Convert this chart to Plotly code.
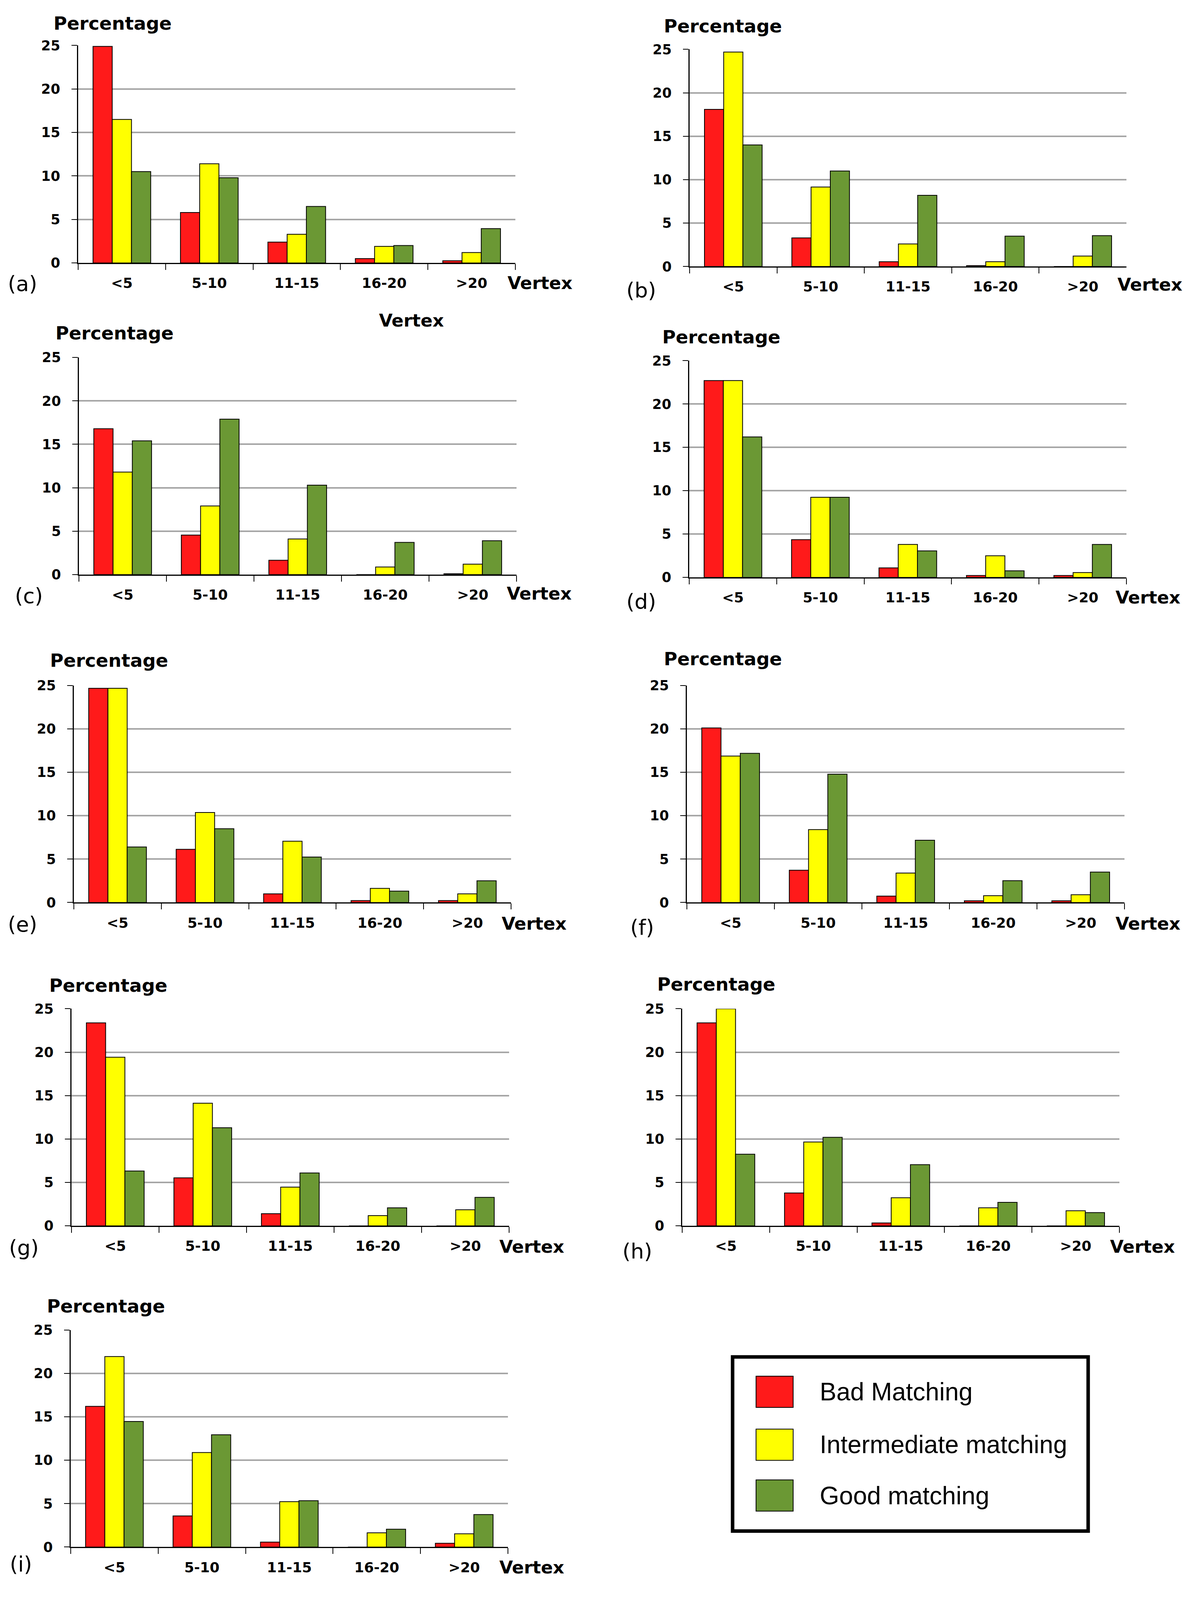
import plotly.graph_objects as go

# ---------------- data ----------------
categories = ["<5", "5-10", "11-15", "16-20", ">20"]
panel_letters = ["(a)", "(b)", "(c)", "(d)", "(e)", "(f)", "(g)", "(h)", "(i)"]
series_names = ["Bad Matching", "Intermediate matching", "Good matching"]
y_ticks = [0, 5, 10, 15, 20, 25]

bad_matching = [
    [24.9, 5.8, 2.4, 0.5, 0.25],
    [18.1, 3.3, 0.55, 0.1, 0.0],
    [16.8, 4.55, 1.65, 0.0, 0.1],
    [22.7, 4.35, 1.1, 0.22, 0.22],
    [24.67, 6.13, 1.0, 0.22, 0.22],
    [20.1, 3.72, 0.74, 0.2, 0.2],
    [23.37, 5.53, 1.4, 0.0, 0.0],
    [23.37, 3.79, 0.33, 0.0, 0.0],
    [16.2, 3.58, 0.57, 0.0, 0.43],
]
intermediate_matching = [
    [16.5, 11.4, 3.3, 1.9, 1.2],
    [24.7, 9.15, 2.6, 0.55, 1.2],
    [11.8, 7.9, 4.1, 0.87, 1.2],
    [22.7, 9.24, 3.8, 2.5, 0.56],
    [24.67, 10.36, 7.06, 1.63, 1.0],
    [16.87, 8.4, 3.39, 0.78, 0.9],
    [19.42, 14.12, 4.46, 1.18, 1.85],
    [25.0, 9.66, 3.23, 2.07, 1.74],
    [21.94, 10.88, 5.22, 1.64, 1.53],
]
good_matching = [
    [10.5, 9.8, 6.5, 2.0, 3.95],
    [14.0, 11.0, 8.2, 3.5, 3.55],
    [15.4, 17.9, 10.3, 3.7, 3.9],
    [16.2, 9.24, 3.06, 0.76, 3.8],
    [6.4, 8.5, 5.24, 1.31, 2.5],
    [17.18, 14.77, 7.17, 2.52, 3.5],
    [6.31, 11.3, 6.09, 2.07, 3.28],
    [8.25, 10.2, 7.05, 2.7, 1.52],
    [14.46, 12.93, 5.34, 2.05, 3.74],
]

# ---------------- layout geometry ----------------
# positions are measured in reference-image pixels (3038 x 4459) and mapped
# onto the visible page area
REF_W, REF_H = 3038, 4459
VIS_H = 4096                 # visible page height
BODY_MARGIN = 8
FIG_W, FIG_H = 3030, 4080
SY = VIS_H / REF_H

colors = ["#FF1A1A", "#FFFF00", "#6B9834"]

# plot areas: x0, x1, ytop, ybottom (reference pixels)
plot_boxes = [
    (200, 1319, 106, 718),
    (1765, 2883, 117, 728),
    (202, 1322, 984, 1595),
    (1764, 2883, 993, 1603),
    (189, 1308, 1907, 2518),
    (1758, 2878, 1907, 2518),
    (183, 1303, 2817, 3428),
    (1746, 2865, 2817, 3428),
    (181, 1300, 3721, 4332),
]
pct_pos = [(288, 43), (1850, 51), (293, 915), (1846, 926), (279, 1837),
           (1850, 1832), (277, 2751), (1833, 2748), (271, 3654)]
letter_pos = [(58, 777), (1641, 795), (74, 1655), (1641, 1672), (58, 2580),
              (1643, 2588), (61, 3490), (1631, 3500), (53, 4380)]
vertex_pos = [(1382, 774), (2943, 779), (1380, 1648), (2938, 1659), (1367, 2577),
              (2938, 2577), (1361, 3487), (2924, 3487), (1361, 4389)]


def fx(rx):
    return (rx - BODY_MARGIN) / FIG_W


def fy(ry):
    return 1 - (ry * SY - BODY_MARGIN) / FIG_H


BOLD = dict(family="DejaVu Sans", color="black", weight="bold")

fig = go.Figure()
layout = dict(
    width=FIG_W, height=FIG_H,
    margin=dict(l=0, r=0, t=0, b=0),
    paper_bgcolor="white", plot_bgcolor="white",
    bargap=0.34, bargroupgap=0.0, barmode="group",
    showlegend=False,
)
annotations = []
shapes = []

for k in range(9):
    sfx = "" if k == 0 else str(k + 1)
    xa, ya = "x" + sfx, "y" + sfx
    for s, vals in enumerate([bad_matching[k], intermediate_matching[k], good_matching[k]]):
        fig.add_trace(go.Bar(
            x=categories, y=vals, name=series_names[s],
            marker=dict(color=colors[s], line=dict(color="black", width=2)),
            xaxis=xa, yaxis=ya, showlegend=False,
        ))
    x0, x1, yt, yb = plot_boxes[k]
    layout["xaxis" + sfx] = dict(
        domain=[fx(x0), fx(x1)], anchor=ya, type="category",
        categoryorder="array", categoryarray=categories,
        showline=True, linecolor="black", linewidth=3,
        ticks="outside", tickson="boundaries", ticklen=15, tickwidth=2, tickcolor="black",
        showgrid=False, zeroline=False,
        tickfont=dict(size=36, **BOLD), ticklabelstandoff=18,
        fixedrange=True,
    )
    layout["yaxis" + sfx] = dict(
        domain=[fy(yb), fy(yt)], anchor=xa, range=[0, 25],
        tickvals=y_ticks, showline=True, linecolor="black", linewidth=3,
        ticks="outside", ticklen=14, tickwidth=2, tickcolor="black",
        showgrid=True, gridcolor="#A6A6A6", gridwidth=4, zeroline=False,
        tickfont=dict(size=35, **BOLD), ticklabelstandoff=22,
        fixedrange=True,
    )
    annotations.append(dict(text="Percentage", x=fx(pct_pos[k][0]), y=fy(pct_pos[k][1]),
                            xref="paper", yref="paper", showarrow=False,
                            xanchor="center", yanchor="middle", font=dict(size=47, **BOLD)))
    annotations.append(dict(text=panel_letters[k], x=fx(letter_pos[k][0]), y=fy(letter_pos[k][1]),
                            xref="paper", yref="paper", showarrow=False,
                            xanchor="center", yanchor="middle",
                            font=dict(size=54, family="DejaVu Sans", color="black")))
    annotations.append(dict(text="Vertex", x=fx(vertex_pos[k][0]), y=fy(vertex_pos[k][1]),
                            xref="paper", yref="paper", showarrow=False,
                            xanchor="center", yanchor="middle", font=dict(size=45, **BOLD)))

# stray "Vertex" label above panel (c)
annotations.append(dict(text="Vertex", x=fx(1053), y=fy(880), xref="paper", yref="paper",
                        showarrow=False, xanchor="center", yanchor="middle",
                        font=dict(size=45, **BOLD)))

# ---------------- legend box ----------------
shapes.append(dict(type="rect", xref="paper", yref="paper",
                   x0=fx(1875), x1=fx(2785), y0=fy(4287), y1=fy(3797),
                   line=dict(color="black", width=9), fillcolor="white"))
legend_rows = [(3851, 3939), (4000, 4088), (4143, 4231)]
for s, (r0, r1) in enumerate(legend_rows):
    shapes.append(dict(type="rect", xref="paper", yref="paper",
                       x0=fx(1935), x1=fx(2030), y0=fy(r1), y1=fy(r0),
                       line=dict(color="black", width=2), fillcolor=colors[s]))
    annotations.append(dict(text=series_names[s], x=fx(2096), y=fy((r0 + r1) / 2),
                            xref="paper", yref="paper", showarrow=False,
                            xanchor="left", yanchor="middle",
                            font=dict(size=64, family="Liberation Sans", color="black")))

layout["annotations"] = annotations
layout["shapes"] = shapes
fig.update_layout(**layout)
fig.write_html("out.html")
